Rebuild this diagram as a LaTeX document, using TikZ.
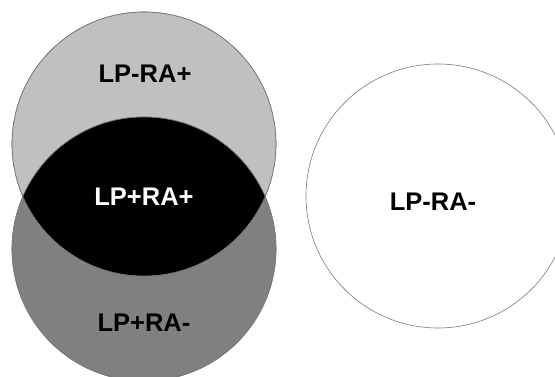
\documentclass[tikz,border=0pt]{standalone}
\usepackage{fontspec}
\setmainfont{Liberation Sans}
\usetikzlibrary{positioning}
\definecolor{topFill}{HTML}{C0C0C0}
\definecolor{botFill}{HTML}{808080}
\definecolor{ringStroke}{HTML}{7A7A7A}

\begin{document}
\begin{tikzpicture}[
  x=1pt, y=-1pt,
  font=\fontsize{25.5}{30}\selectfont\bfseries,
  setc/.style={circle, draw=ringStroke, line width=0.6pt, minimum size=264pt, inner sep=0pt},
  lbl/.style={inner sep=1pt}
]
\useasboundingbox (0,0) rectangle (555,377);

% ============================================================
% SETS: LP and RA overlap, third set apart
% ============================================================
\node[setc, fill=topFill] (ra) at (144,144) {};
\node[setc, fill=botFill] (lp) at (144,249) {};
\node[setc, fill=white] (none) at (438,196) {};

% ============================================================
% OVERLAP (black lens)
% ============================================================
\begin{scope}
  \clip (ra.center) circle[radius=132pt];
  \fill[black] (lp.center) circle[radius=132pt];
\end{scope}
\draw[ringStroke, line width=0.6pt] (ra.center) circle[radius=132pt];
\draw[ringStroke, line width=0.6pt] (lp.center) circle[radius=132pt];

% ============================================================
% LABELS
% ============================================================
\node[lbl] (lbra) at (145,74) {LP-RA+};
\node[lbl, text=white] (lbboth) at (144,197) {LP+RA+};
\node[lbl] (lblp) at (144,323) {LP+RA-};
\node[lbl] (lbnone) at (433,202) {LP-RA-};

\end{tikzpicture}
\end{document}
